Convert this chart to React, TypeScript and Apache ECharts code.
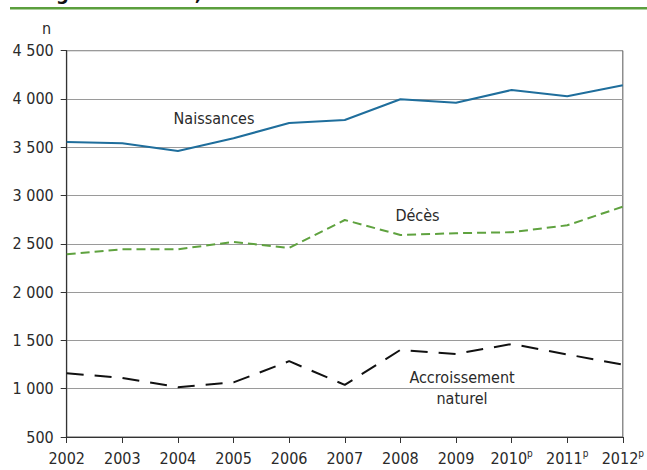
import React, { useEffect, useRef } from "react";
import * as echarts from "echarts";

const years = ["2002", "2003", "2004", "2005", "2006", "2007", "2008", "2009", "2010", "2011", "2012"];
const provisional = [false, false, false, false, false, false, false, false, true, true, true];
const naissances = [3555, 3541, 3462, 3593, 3752, 3783, 3997, 3962, 4093, 4028, 4142];
const deces = [2392, 2444, 2444, 2520, 2458, 2747, 2592, 2610, 2620, 2692, 2885];
const accroissement = [1160, 1112, 1016, 1065, 1285, 1040, 1402, 1360, 1463, 1355, 1250];
const yTicks = { min: 500, max: 4500, interval: 500 };

const FONT = "'Liberation Sans Narrow', 'DejaVu Sans Condensed', 'Roboto', Arial, sans-serif";
const TXT = "#2a2a2a";
const FS = 16;

function fmtThousands(v: number): string {
  const s = String(Math.round(v));
  return s.replace(/\B(?=(\d{3})+(?!\d))/g, " ");
}

export default function App() {
  const ref = useRef<HTMLDivElement>(null);
  useEffect(() => {
    if (!ref.current) return;
    const chart = echarts.init(ref.current, undefined, { renderer: "svg" });
    chart.setOption({
      animation: false,
      backgroundColor: "#ffffff",
      grid: {
        left: 66.7,
        right: 23,
        top: 50.7,
        bottom: 33,
        show: true,
        borderColor: "#555",
        borderWidth: 1,
      },
      xAxis: {
        type: "category",
        data: years,
        boundaryGap: false,
        axisLine: { lineStyle: { color: "#333", width: 1.2 } },
        axisTick: { show: true, length: 6, alignWithLabel: true, lineStyle: { color: "#333" } },
        axisLabel: {
          margin: 11,
          interval: 0,
          color: TXT,
          fontFamily: FONT,
          fontSize: FS,
          formatter: (v: string, i: number) => (provisional[i] ? `{a|${v}}{p|p}` : `{a|${v}}`),
          rich: {
            a: { fontFamily: FONT, fontSize: FS, color: TXT, lineHeight: 20 },
            p: { fontFamily: FONT, fontSize: 10, color: TXT, verticalAlign: "top", lineHeight: 20, padding: [0, 0, 6, 0] },
          },
        },
        splitLine: { show: false },
      },
      yAxis: {
        type: "value",
        min: yTicks.min,
        max: yTicks.max,
        interval: yTicks.interval,
        axisLine: { show: true, lineStyle: { color: "#333", width: 1.2 } },
        axisTick: { show: true, length: 6, lineStyle: { color: "#333" } },
        axisLabel: {
          margin: 13,
          color: TXT,
          fontFamily: FONT,
          fontSize: FS,
          formatter: (v: number) => fmtThousands(v),
        },
        splitLine: { show: true, lineStyle: { color: "#9a9a9a", width: 1 } },
      },
      series: [
        {
          name: "Naissances",
          type: "line",
          data: naissances,
          symbol: "none",
          lineStyle: { color: "#1f6e9c", width: 2 },
          z: 5,
        },
        {
          name: "Décès",
          type: "line",
          data: deces,
          symbol: "none",
          lineStyle: { color: "#5fa23f", width: 2, type: [9, 5] },
          z: 5,
        },
        {
          name: "Accroissement naturel",
          type: "line",
          data: accroissement,
          symbol: "none",
          lineStyle: { color: "#111", width: 2, type: [17, 11] },
          z: 5,
        },
      ],
      graphic: [
        {
          type: "text",
          left: 30,
          top: -17,
          style: { text: "Région Nord-Est,", font: `bold 20px ${FONT}`, fill: "#111" },
        },
        {
          type: "rect",
          shape: { x: 10, y: 7, width: 637, height: 2.5 },
          style: { fill: "#5b9f3d" },
        },
        {
          type: "text",
          x: 46.5,
          y: 28,
          style: { text: "n", font: `${FS}px ${FONT}`, fill: TXT, align: "center", verticalAlign: "middle" },
        },
        {
          type: "text",
          x: 214,
          y: 118,
          style: { text: "Naissances", font: `${FS}px ${FONT}`, fill: TXT, align: "center", verticalAlign: "middle" },
        },
        {
          type: "text",
          x: 417.5,
          y: 215,
          style: { text: "Décès", font: `${FS}px ${FONT}`, fill: TXT, align: "center", verticalAlign: "middle" },
        },
        {
          type: "text",
          x: 462,
          y: 377,
          style: { text: "Accroissement", font: `${FS}px ${FONT}`, fill: TXT, align: "center", verticalAlign: "middle" },
        },
        {
          type: "text",
          x: 462,
          y: 398,
          style: { text: "naturel", font: `${FS}px ${FONT}`, fill: TXT, align: "center", verticalAlign: "middle" },
        },
      ],
    });
    return () => chart.dispose();
  }, []);
  return (
    <div
      ref={ref}
      style={{ position: "fixed", left: 0, top: 0, width: 647, height: 470, background: "#fff" }}
    />
  );
}
